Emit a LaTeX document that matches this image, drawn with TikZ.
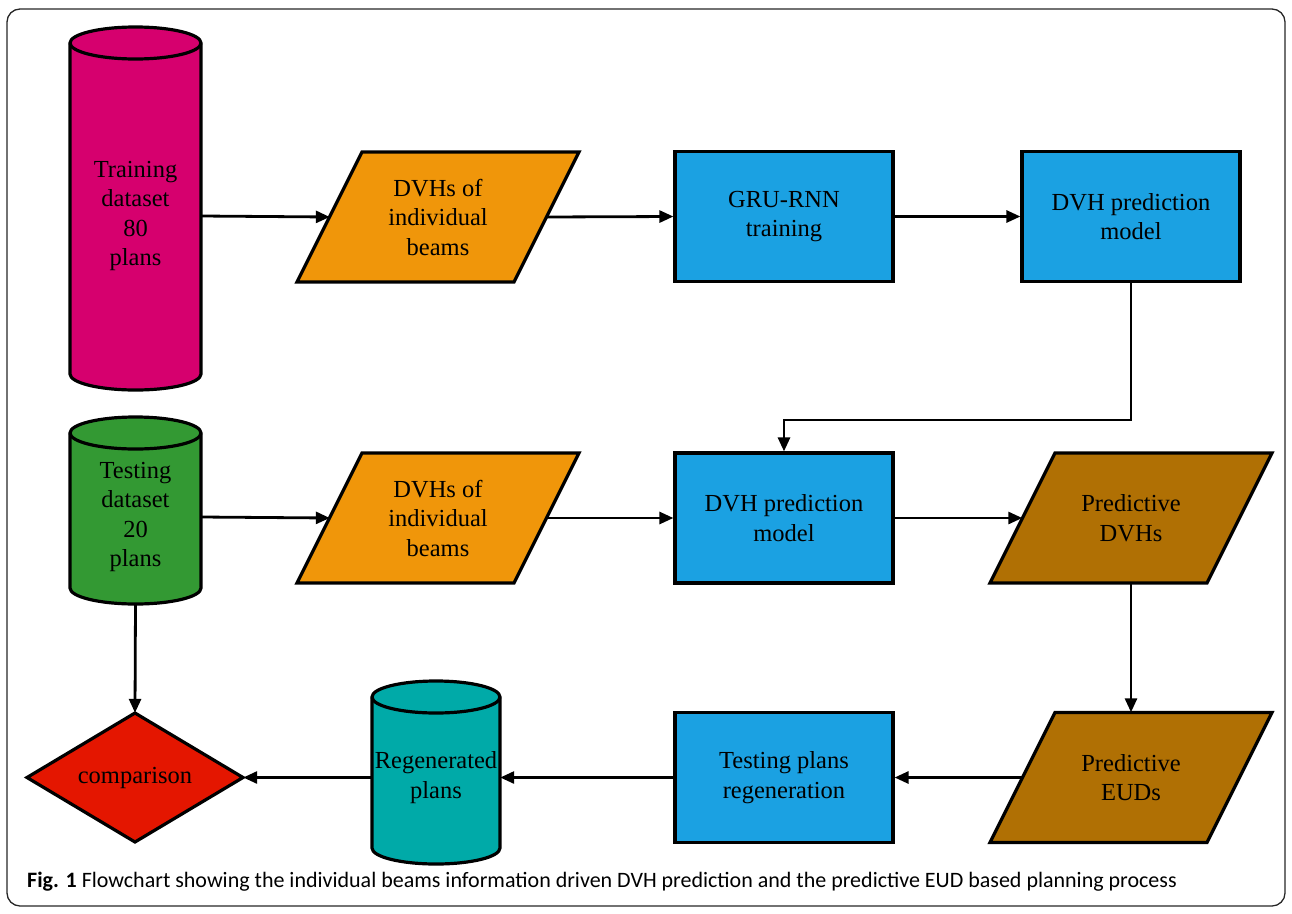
\documentclass[tikz,border=0pt]{standalone}
\usepackage{fontspec}
\setmainfont{Liberation Serif}
\newfontfamily\capfont{Carlito}
\usetikzlibrary{arrows.meta,calc}
\definecolor{cmag}{RGB}{214,0,110}
\definecolor{cgreen}{RGB}{51,153,51}
\definecolor{corange}{RGB}{240,150,10}
\definecolor{cblue}{RGB}{27,161,226}
\definecolor{cbrown}{RGB}{176,112,4}
\definecolor{cteal}{RGB}{0,170,168}
\definecolor{cred}{RGB}{228,22,0}
\tikzset{
  shapeline/.style={draw=black,line width=3.2pt,line join=miter},
  lbl/.style={inner sep=0pt,align=center,font=\fontsize{24.5}{29.5}\selectfont},
  boxnode/.style={lbl,shapeline,minimum width=218pt,minimum height=130pt,fill=cblue},
  arr/.style={line width=2.8pt,-{Triangle[length=14pt,width=12pt]}},
}
% cylinder: #1 x-left, #2 x-right, #3 y top-ellipse centre, #4 y bottom-ellipse centre, #5 colour
\newcommand\mycyl[5]{%
  \pgfmathsetmacro\rx{(#2-#1)/2}%
  \path[shapeline,fill=#5] (#1,#3) -- (#1,#4) arc[start angle=180,end angle=0,x radius=\rx,y radius=16]
     -- (#2,#3) arc[start angle=0,end angle=-180,x radius=\rx,y radius=16] -- cycle;
  \draw[shapeline] (#1,#3) arc[start angle=180,end angle=0,x radius=\rx,y radius=16];
}
% parallelogram: #1 cx, #2 cy, #3 colour
\newcommand\mypara[3]{%
  \path[shapeline,fill=#3] (#1-141,#2+65) -- (#1+76,#2+65) -- (#1+141,#2-65) -- (#1-76,#2-65) -- cycle;
}
\begin{document}
\begin{tikzpicture}[x=1pt,y=-1pt]
\useasboundingbox (0,0) rectangle (1292,913);
\draw[line width=1.3pt,rounded corners=13pt,draw=black!85] (7,9) rectangle (1285,906);

% cylinders
\mycyl{70}{201}{43}{374}{cmag}
\node[lbl,minimum width=131pt,minimum height=320pt] (train) at (135.5,216) {Training\\dataset\\80\\plans};
\mycyl{70}{201}{433}{588}{cgreen}
\node[lbl,minimum width=131pt,minimum height=172pt] (test) at (135.5,517) {Testing\\dataset\\20\\plans};
\mycyl{372}{500}{697}{848}{cteal}
\node[lbl,minimum width=128pt,minimum height=150pt] (regen) at (436,777.5) {Regenerated\\plans};

% parallelograms
\mypara{438}{217}{corange}
\node[lbl,minimum width=216pt,minimum height=130pt] (dvh1) at (438,217) {DVHs of\\individual\\beams};
\mypara{438}{518}{corange}
\node[lbl,minimum width=216pt,minimum height=130pt] (dvh2) at (438,518) {DVHs of\\individual\\beams};
\mypara{1131}{518}{cbrown}
\node[lbl,minimum width=217pt,minimum height=130pt] (pdvh) at (1131,518) {Predictive\\DVHs};
\mypara{1131}{777.5}{cbrown}
\node[lbl,minimum width=217pt,minimum height=130pt] (peud) at (1131,777.5) {Predictive\\EUDs};

% boxes
\node[boxnode] (gru) at (784,216.5) {GRU-RNN\\training};
\node[boxnode] (model1) at (1131,216.5) {DVH prediction\\model};
\node[boxnode] (model2) at (784,518) {DVH prediction\\model};
\node[boxnode] (regbox) at (784,777.5) {Testing plans\\regeneration};

% diamond
\path[shapeline,fill=cred] (27,777.5) -- (135,713) -- (243,777.5) -- (135,842) -- cycle;
\node[lbl,minimum width=216pt,minimum height=129pt] (cmp) at (135,777.5) {comparison};

% connectors
\coordinate (bend) at (784,420);
\draw[arr] (train.east) -- (dvh1.west);
\draw[arr] (dvh1.east) -- (gru.west);
\draw[arr] (gru.east) -- (model1.west);
\draw[arr] (model1.south) |- (bend) -- (model2.north);
\draw[arr] (test.east) -- (dvh2.west);
\draw[arr] (dvh2.east) -- (model2.west);
\draw[arr] (model2.east) -- (pdvh.west);
\draw[arr] (pdvh.south) -- (peud.north);
\draw[arr] (peud.west) -- (regbox.east);
\draw[arr] (regbox.west) -- (regen.east);
\draw[arr] (regen.west) -- (cmp.east);
\draw[arr] (test.south) -- (cmp.north);

% caption
\node[anchor=west,inner sep=0pt,font=\capfont\fontsize{22}{25}\selectfont] (cap) at (27,882) {\textbf{Fig. 1} Flowchart showing the individual beams information driven DVH prediction and the predictive EUD based planning process};
\end{tikzpicture}
\end{document}
